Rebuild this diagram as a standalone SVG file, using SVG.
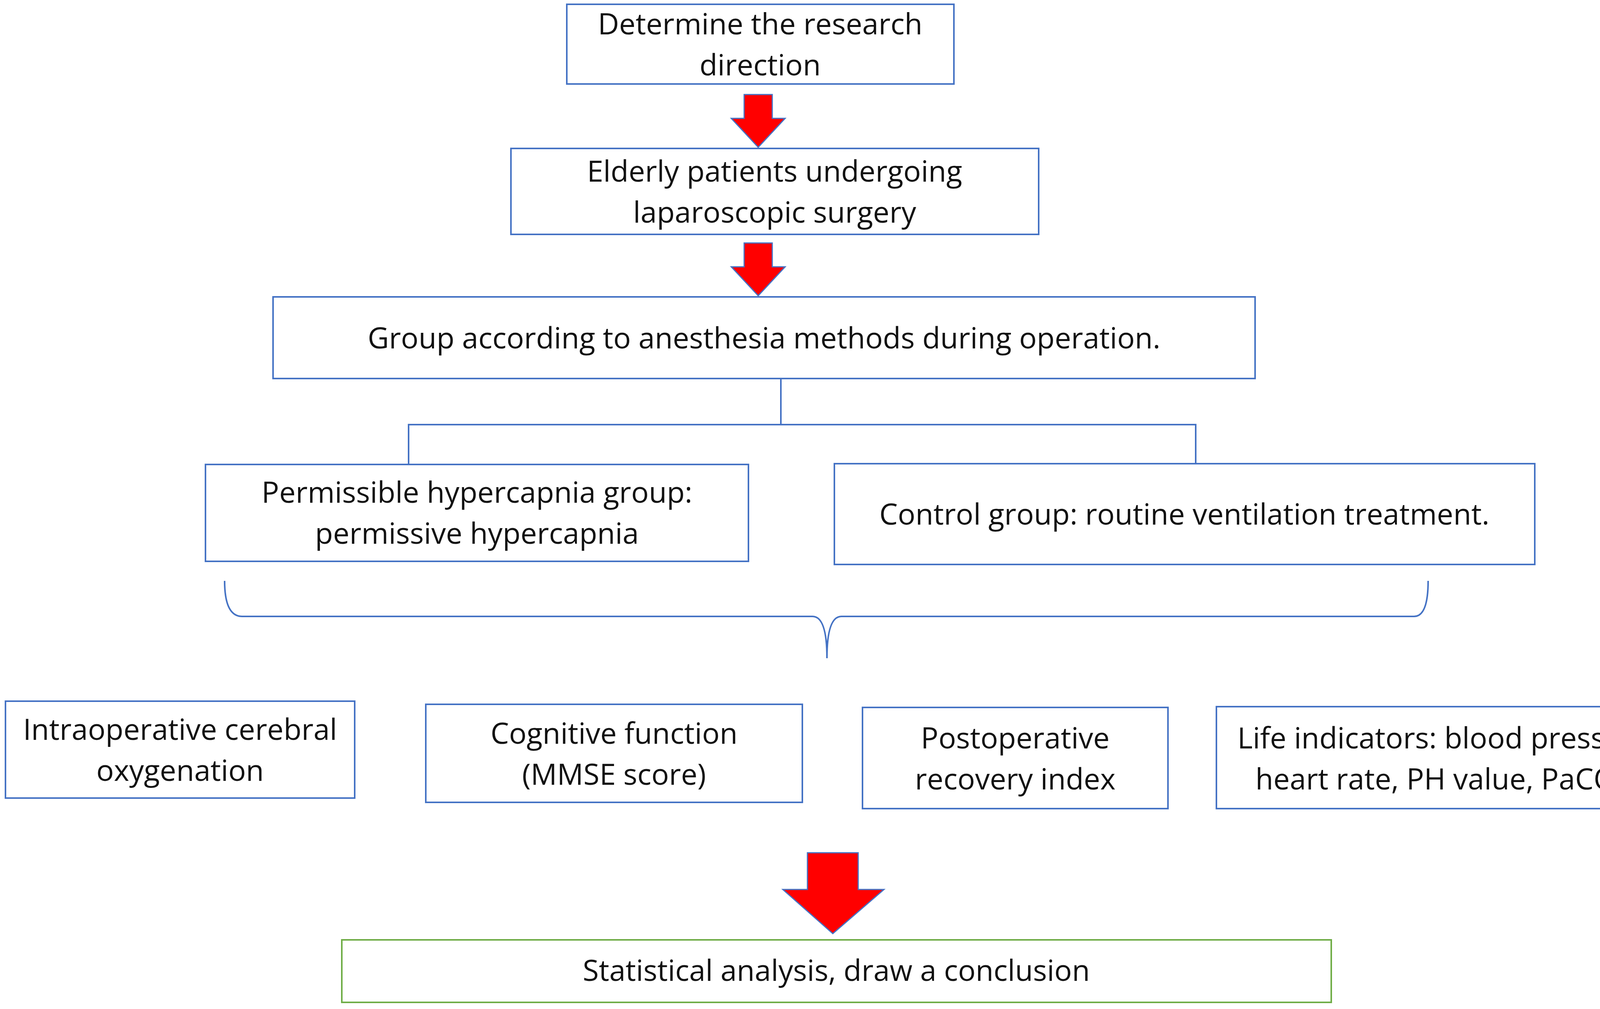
<svg xmlns="http://www.w3.org/2000/svg" width="4317" height="2583" viewBox="0 0 4317 2583">
<style>
.b{fill:#fff;stroke:#4472c4;stroke-width:4}
.g{fill:#fff;stroke:#70ad47;stroke-width:4}
.t{font-family:"Open Sans","Noto Sans",sans-serif;font-size:75px;fill:#111;text-anchor:middle}
.a{fill:#ff0000;stroke:#4472c4;stroke-width:3}
.c{fill:none;stroke:#4472c4;stroke-width:4}
</style>
<rect width="4317" height="2583" fill="#fff"/>
<g id="n1"><rect class="b" x="1451" y="11" width="991" height="204"/><text class="t" x="1946" y="88">Determine the research</text><text class="t" x="1946" y="193">direction</text></g>
<g id="n2"><rect class="b" x="1308" y="380" width="1351" height="220"/><text class="t" x="1983" y="465">Elderly patients undergoing</text><text class="t" x="1983" y="570">laparoscopic surgery</text></g>
<g id="n3"><rect class="b" x="699" y="760" width="2514" height="209"/><text class="t" x="1956" y="892">Group according to anesthesia methods during operation.</text></g>
<g id="n4"><rect class="b" x="526" y="1189" width="1390" height="248"/><text class="t" x="1221" y="1287">Permissible hypercapnia group:</text><text class="t" x="1221" y="1392">permissive hypercapnia</text></g>
<g id="n5"><rect class="b" x="2136" y="1187" width="1793" height="258"/><text class="t" x="3032" y="1343">Control group: routine ventilation treatment.</text></g>
<g id="n6"><rect class="b" x="14" y="1795" width="894" height="248"/><text class="t" x="461" y="1894">Intraoperative cerebral</text><text class="t" x="461" y="1999">oxygenation</text></g>
<g id="n7"><rect class="b" x="1090" y="1803" width="964" height="251"/><text class="t" x="1572" y="1904">Cognitive function</text><text class="t" x="1572" y="2009">(MMSE score)</text></g>
<g id="n8"><rect class="b" x="2208" y="1811" width="782" height="259"/><text class="t" x="2599" y="1916">Postoperative</text><text class="t" x="2599" y="2021">recovery index</text></g>
<g id="n9"><rect class="b" x="3114" y="1809" width="1186" height="261"/><text class="t" x="3707" y="1916">Life indicators: blood pressure,</text><text class="t" x="3707" y="2021">heart rate, PH value, PaCO2.</text></g>
<g id="n10"><rect class="g" x="875" y="2406" width="2533" height="160"/><text class="t" x="2141" y="2511">Statistical analysis, draw a conclusion</text></g>
<g id="connectors">
<polygon class="a" points="1905,242 1977,242 1977,303 2010,303 1941,377 1872,303 1905,303"/>
<polygon class="a" points="1905,622 1977,622 1977,683 2010,683 1941,757 1872,683 1905,683"/>
<polygon class="a" points="2067,2183 2197,2183 2197,2277 2263,2277 2132,2390 2004,2277 2067,2277"/>
<path class="c" d="M1999,969 V1087 M1046,1189 V1087 H3061 V1185"/>
<path class="c" d="M575,1487 Q575,1578 620,1578 H2080 Q2117,1578 2117,1685 Q2117,1578 2154,1578 H3620 Q3656,1578 3656,1487"/>
</g>
</svg>
